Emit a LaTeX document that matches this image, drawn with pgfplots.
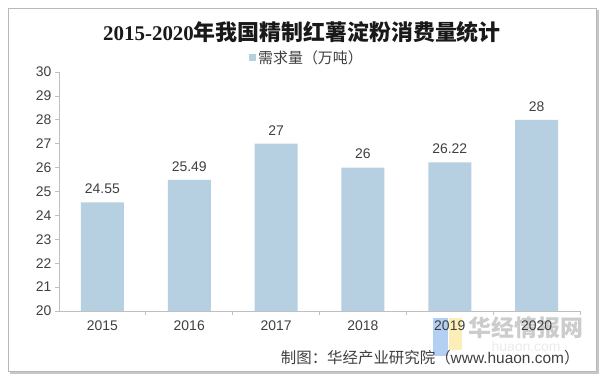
\documentclass[border=0pt]{standalone}
\usepackage{fontspec}
\setmainfont{Liberation Sans}
\newfontfamily\cjk{Noto Sans CJK SC}
\newfontfamily\titlelatin{Liberation Serif}
\usepackage{pgfplots}
\pgfplotsset{compat=1.18}
\definecolor{barblue}{RGB}{182,208,226}
\definecolor{axisgray}{RGB}{191,191,191}
\definecolor{txt}{RGB}{64,64,64}
\definecolor{wmblue}{RGB}{160,195,240}
\definecolor{wmyellow}{RGB}{250,236,165}
\pgfplotstableread{
x y label
0 24.55 24.55
1 25.49 25.49
2 27 27
3 26 26
4 26.22 26.22
5 28 28
}\demand
\begin{document}
\begin{tikzpicture}[x=1bp,y=1bp]
\useasboundingbox (0,0) rectangle (605,-383);
\fill[black!22] (10,-10) rectangle (599,-374);
\draw[black!28, fill=white] (8,-8) rectangle (596,-371);
\node[text=black!90] at (302,-32) {\bfseries\titlelatin\fontsize{21}{21}\selectfont 2015-2020\cjk\fontsize{22}{22}\selectfont 年我国精制红薯淀粉消费量统计};
% watermark
\fill[wmblue, opacity=0.8] (433,-318) rectangle (448,-356);
\fill[wmyellow, opacity=0.8] (449,-318) rectangle (462,-350);
\node[text=black!20] at (526,-328) {\cjk\bfseries\fontsize{23}{23}\selectfont 华经情报网};
\node[text=black!8] at (526,-347) {\fontsize{14}{14}\selectfont huaon.com};
\begin{axis}[
  at={(59bp,-311bp)}, anchor=south west,
  width=521bp, height=239bp, scale only axis,
  xmin=-0.5, xmax=5.5, ymin=20, ymax=30,
  ytick={20,21,...,30},
  xtick={0,1,2,3,4,5},
  xticklabels={2015,2016,2017,2018,2019,2020},
  axis x line*=bottom, axis y line*=left,
  axis line style={draw=axisgray, line width=0.8bp},
  separate axis lines,
  tick align=outside,
  major tick length=4bp,
  xtick style={draw=none},
  ytick style={draw=axisgray, line width=0.8bp},
  extra x ticks={0.5,1.5,2.5,3.5,4.5,5.5},
  extra x tick labels={,,,,,},
  extra x tick style={xtick style={draw=axisgray, line width=0.8bp}},
  tick label style={font=\fontsize{14}{14}\selectfont, text=txt},
  /pgf/number format/assume math mode=true,
  x tick label style={yshift=-2bp},
  legend style={at={(rel axis cs:0.476,1.059)}, anchor=center, draw=none, fill=none,
    font=\cjk\fontsize{15}{15}\selectfont, text=txt},
  legend image code/.code={\fill[barblue] (0bp,-3.5bp) rectangle (7bp,3.5bp);},
  clip=false,
]
\addplot[ybar, fill=barblue, draw=none, bar width=43bp,
  point meta=explicit symbolic,
  nodes near coords,
  nodes near coords style={font=\fontsize{14}{14}\selectfont, text=txt, anchor=south, yshift=5bp}]
  table[x=x, y=y, meta=label] {\demand};
\addlegendentry{需求量（万吨）}
\end{axis}
\node[anchor=east, text=txt] at (583,-358) {\cjk\fontsize{15.5}{16}\selectfont 制图：华经产业研究院（\rmfamily www.huaon.com\cjk ）};
\end{tikzpicture}
\end{document}
